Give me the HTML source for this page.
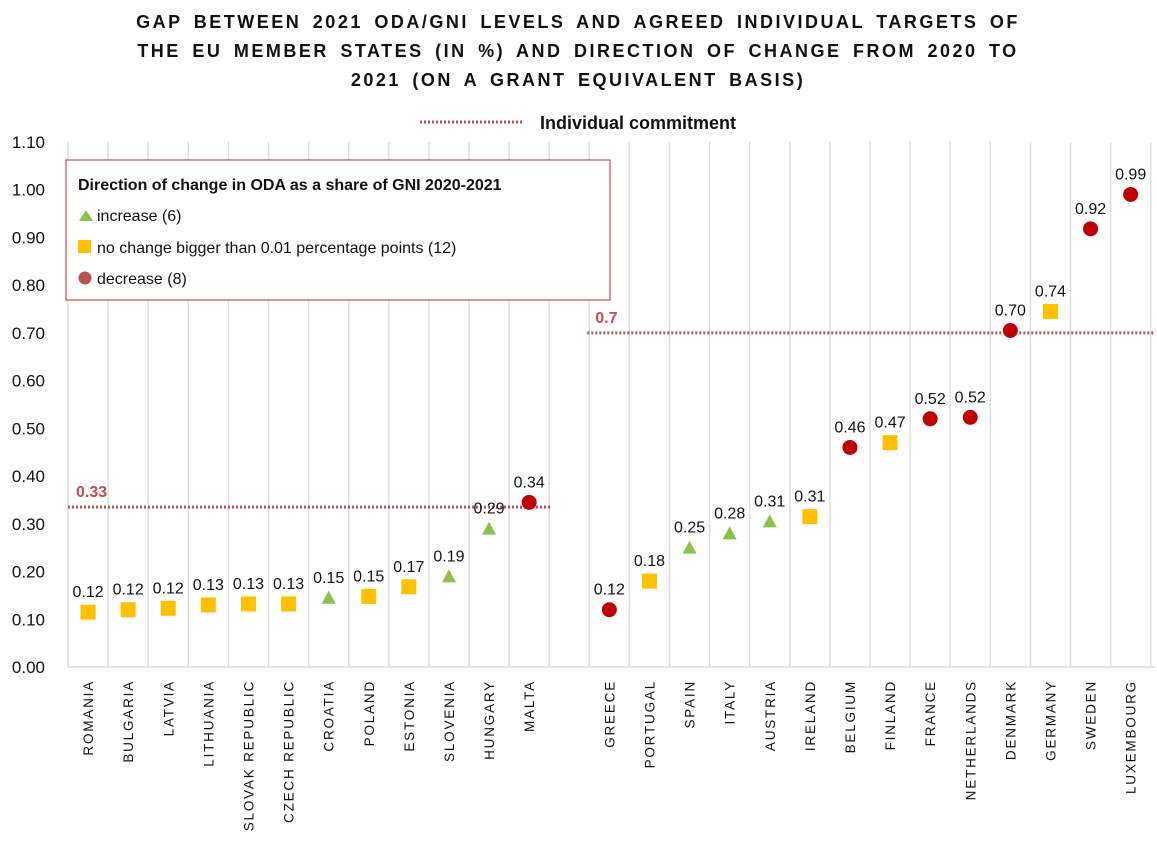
<!DOCTYPE html>
<html><head><meta charset="utf-8"><style>
body{margin:0;background:#fff;font-family:"Liberation Sans",sans-serif}
svg text{font-family:"Liberation Sans",sans-serif}
</style></head><body>
<svg id="c" width="1157" height="841" xmlns="http://www.w3.org/2000/svg">
<g font-weight="bold" font-size="18" text-anchor="middle" letter-spacing="2.5" word-spacing="4" fill="#111">
<text x="578" y="28">GAP BETWEEN 2021 ODA/GNI LEVELS AND AGREED INDIVIDUAL TARGETS OF</text>
<text x="578" y="57">THE EU MEMBER STATES (IN %) AND DIRECTION OF CHANGE FROM 2020 TO</text>
<text x="578" y="86">2021 (ON A GRANT EQUIVALENT BASIS)</text>
</g>
<g>
<line x1="420" y1="122" x2="522" y2="122" stroke="#c0504d" stroke-width="3" stroke-dasharray="2,2"/>
<text x="540" y="129" font-size="18" font-weight="bold" fill="#111">Individual commitment</text>
</g>
<g id="grid"></g><g id="yax"></g><g id="ref"></g><g id="marks"></g><g id="xl"></g>
<g>
<rect x="66" y="160" width="544" height="140" fill="#fff" stroke="#c0504d" stroke-width="1.2"/>
<text x="78" y="190" font-size="16" font-weight="bold" fill="#111">Direction of change in ODA as a share of GNI 2020-2021</text>
<polygon points="79,221 86,210 93,221" fill="#8bc34a"/>
<text x="97" y="221" font-size="16" fill="#111">increase (6)</text>
<rect x="78" y="240" width="13" height="13" fill="#ffc000"/>
<text x="97" y="253" font-size="16" fill="#111">no change bigger than 0.01 percentage points (12)</text>
<circle cx="85" cy="278" r="6.5" fill="#c0504d"/>
<text x="97" y="284" font-size="16" fill="#111">decrease (8)</text>
</g>
</svg>
<script>
const countries=["ROMANIA","BULGARIA","LATVIA","LITHUANIA","SLOVAK REPUBLIC","CZECH REPUBLIC","CROATIA","POLAND","ESTONIA","SLOVENIA","HUNGARY","MALTA","","GREECE","PORTUGAL","SPAIN","ITALY","AUSTRIA","IRELAND","BELGIUM","FINLAND","FRANCE","NETHERLANDS","DENMARK","GERMANY","SWEDEN","LUXEMBOURG"];
const values=[0.115,0.12,0.123,0.13,0.132,0.132,0.145,0.148,0.168,0.19,0.29,0.345,null,0.12,0.18,0.25,0.28,0.305,0.315,0.46,0.47,0.52,0.523,0.705,0.745,0.918,0.99];
const labels=["0.12","0.12","0.12","0.13","0.13","0.13","0.15","0.15","0.17","0.19","0.29","0.34","","0.12","0.18","0.25","0.28","0.31","0.31","0.46","0.47","0.52","0.52","0.70","0.74","0.92","0.99"];
const types=["s","s","s","s","s","s","t","s","s","t","t","c","","c","s","t","t","t","s","c","s","c","c","c","s","c","c"];
const yTicks=[0,0.1,0.2,0.3,0.4,0.5,0.6,0.7,0.8,0.9,1.0,1.1];
const targets=[{v:0.335,from:0,to:11,label:"0.33"},{v:0.70,from:13,to:26,label:"0.7"}];
const NS="http://www.w3.org/2000/svg";
const X0=68,SW=40.1,Y0=667,PX=477.3;
const xs=i=>X0+SW*(i+0.5), ys=v=>Y0-v*PX;
function mk(t,a,p){const e=document.createElementNS(NS,t);for(const k in a)e.setAttribute(k,a[k]);p.appendChild(e);return e;}
const g=document.getElementById('grid'),ya=document.getElementById('yax'),rf=document.getElementById('ref'),mg=document.getElementById('marks'),xl=document.getElementById('xl');
for(let i=0;i<=countries.length;i++){const x=X0+SW*i;const l=mk('line',{x1:x,x2:x,y1:ys(1.1),y2:Y0,stroke:'#dedede','stroke-width':1.5},g);

}
const bl=mk('line',{x1:X0,x2:1155,y1:Y0,y2:Y0,stroke:'#dedede','stroke-width':1.5},g);


yTicks.forEach(v=>{const t=mk('text',{x:45,y:ys(v)+6,'font-size':17,'text-anchor':'end',fill:'#111'},ya);t.textContent=v.toFixed(2);

});
targets.forEach(o=>{const x1=o.from===0?X0:xs(o.from)-SW*0.55,x2=o.to===26?1155:xs(o.to)+SW*0.55;
const l=mk('line',{x1:x1,x2:x2,y1:ys(o.v),y2:ys(o.v),stroke:'#c0504d','stroke-width':3,'stroke-dasharray':'2,2'},rf);


const t=mk('text',{x:x1+8,y:ys(o.v)-10,'font-size':16,'font-weight':'bold',fill:'#c0504d'},rf);t.textContent=o.label;

});
countries.forEach((c,i)=>{if(!c)return;const x=xs(i),y=ys(values[i]);let m;
if(types[i]==='s')m=mk('rect',{x:x-7.5,y:y-7.5,width:15,height:15,fill:'#ffc000'},mg);
else if(types[i]==='t')m=mk('polygon',{points:`${x-7},${y+6} ${x},${y-7} ${x+7},${y+6}`,fill:'#8bc34a'},mg);
else m=mk('circle',{cx:x,cy:y,r:7.5,fill:'#c00000'},mg);


const t=mk('text',{x:x,y:y-15,'font-size':16,'text-anchor':'middle',fill:'#111'},mg);t.textContent=labels[i];


const xt=mk('text',{x:0,y:0,'font-size':13.5,'text-anchor':'end','letter-spacing':'1.8',fill:'#111',transform:`translate(${x+5},680) rotate(-90)`},xl);xt.textContent=c;

});
</script>
</body></html>
